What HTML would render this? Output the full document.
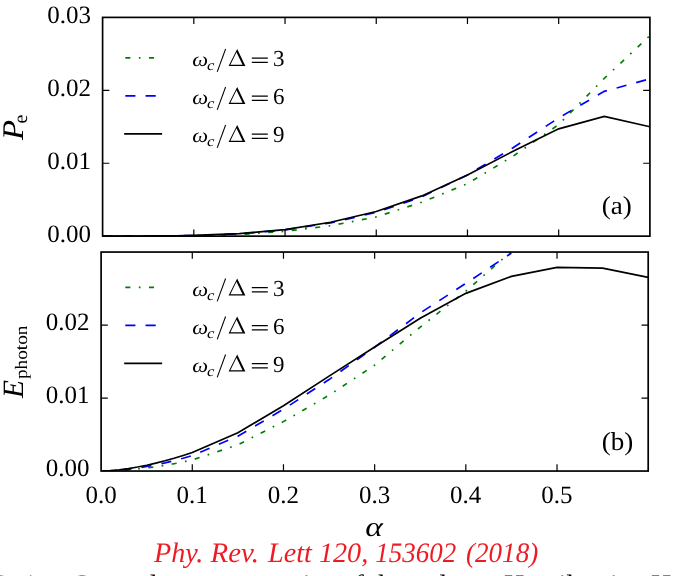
<!DOCTYPE html>
<html><head><meta charset="utf-8"><title>figure</title>
<style>
html,body{margin:0;padding:0;background:#fff;}
body{width:685px;height:576px;overflow:hidden;position:relative;}
svg{position:absolute;left:0;top:0;display:block;will-change:transform;}
text{font-family:"Liberation Serif",serif;fill:#000;text-rendering:geometricPrecision;}
.i{font-style:italic;}
</style></head><body>
<svg width="685" height="576" viewBox="0 0 685 576">
<rect x="0" y="0" width="685" height="576" fill="#fff"/>
<clipPath id="c0"><rect x="102.60" y="17.40" width="547.30" height="218.75"/></clipPath>
<clipPath id="c1"><rect x="101.10" y="252.05" width="547.10" height="219.00"/></clipPath>
<g clip-path="url(#c0)">
<polyline points="102.60,236.15 111.72,236.15 120.84,236.14 129.96,236.13 139.09,236.11 148.21,236.08 157.33,236.03 166.45,235.98 175.57,235.90 184.69,235.82 193.82,235.71 239.43,234.55 285.03,231.34 330.64,225.72 376.25,216.90 421.86,202.24 467.47,183.65 513.08,156.16 558.68,124.59 604.29,78.36 649.90,35.63" fill="none" stroke="#008000" stroke-width="1.69" stroke-dasharray="5.07 8.45 1.69 8.45" stroke-dashoffset="0.00" stroke-linejoin="miter"/>
<polyline points="102.60,236.15 111.72,236.15 120.84,236.13 129.96,236.10 139.09,236.06 148.21,236.00 157.33,235.93 166.45,235.85 175.57,235.75 184.69,235.63 193.82,235.49 239.43,233.89 285.03,229.95 330.64,222.81 376.25,212.38 421.86,196.78 467.47,174.90 513.08,147.78 558.68,117.88 604.29,91.34 649.90,78.80" fill="none" stroke="#0000ff" stroke-width="1.69" stroke-dasharray="10.14 10.14" stroke-dashoffset="0.00" stroke-linejoin="miter"/>
<polyline points="102.60,236.15 111.72,236.15 120.84,236.13 129.96,236.11 139.09,236.06 148.21,236.00 157.33,235.93 166.45,235.83 175.57,235.72 184.69,235.58 193.82,235.42 239.43,233.67 285.03,229.59 330.64,222.22 376.25,211.50 421.86,195.90 467.47,174.90 513.08,151.28 558.68,128.82 604.29,116.35 649.90,126.78" fill="none" stroke="#000000" stroke-width="1.69" stroke-linejoin="miter"/>
</g>
<g clip-path="url(#c1)">
<polyline points="101.10,471.05 110.22,470.90 119.34,470.49 128.45,469.86 137.57,469.02 146.69,467.98 155.81,466.75 164.93,465.33 174.05,463.72 183.16,461.92 192.28,459.95 237.88,444.84 283.47,421.63 329.06,395.20 374.65,365.13 420.24,327.09 465.83,291.11 511.43,251.32" fill="none" stroke="#008000" stroke-width="1.69" stroke-dasharray="5.07 8.45 1.69 8.45" stroke-dashoffset="0.00" stroke-linejoin="miter"/>
<polyline points="101.10,471.05 110.22,470.79 119.34,470.16 128.45,469.22 137.57,468.00 146.69,466.52 155.81,464.80 164.93,462.83 174.05,460.63 183.16,458.21 192.28,455.57 237.88,436.23 283.47,409.22 329.06,379.58 374.65,347.24 420.24,313.00 465.83,283.37 511.43,253.14" fill="none" stroke="#0000ff" stroke-width="1.69" stroke-dasharray="10.14 10.14" stroke-dashoffset="0.00" stroke-linejoin="miter"/>
<polyline points="101.10,471.05 110.22,470.65 119.34,469.79 128.45,468.56 137.57,467.03 146.69,465.21 155.81,463.13 164.93,460.80 174.05,458.23 183.16,455.44 192.28,452.44 237.88,432.80 283.47,405.79 329.06,376.15 374.65,346.95 420.24,318.19 465.83,293.37 511.43,276.36 557.02,267.38 602.61,268.11 648.20,277.38" fill="none" stroke="#000000" stroke-width="1.69" stroke-linejoin="miter"/>
</g>
<rect x="102.60" y="17.40" width="547.30" height="218.75" fill="none" stroke="#000" stroke-width="1.69"/>
<path d="M193.82 236.15v-6.70 M193.82 17.40v6.70 M285.03 236.15v-6.70 M285.03 17.40v6.70 M376.25 236.15v-6.70 M376.25 17.40v6.70 M467.47 236.15v-6.70 M467.47 17.40v6.70 M558.68 236.15v-6.70 M558.68 17.40v6.70 M102.60 163.23h6.70 M649.90 163.23h-6.70 M102.60 90.32h6.70 M649.90 90.32h-6.70 " stroke="#000" stroke-width="1.20" fill="none"/>
<rect x="101.10" y="252.05" width="547.10" height="219.00" fill="none" stroke="#000" stroke-width="1.69"/>
<path d="M192.28 471.05v-6.70 M192.28 252.05v6.70 M283.47 471.05v-6.70 M283.47 252.05v6.70 M374.65 471.05v-6.70 M374.65 252.05v6.70 M465.83 471.05v-6.70 M465.83 252.05v6.70 M557.02 471.05v-6.70 M557.02 252.05v6.70 M101.10 398.05h6.70 M648.20 398.05h-6.70 M101.10 325.05h6.70 M648.20 325.05h-6.70 " stroke="#000" stroke-width="1.20" fill="none"/>
<g font-size="25.00" text-anchor="end">
<text x="91.0" y="241.80">0.00</text>
<text x="91.0" y="169.00">0.01</text>
<text x="91.0" y="96.20">0.02</text>
<text x="91.0" y="23.40">0.03</text>
<text x="89.6" y="475.90">0.00</text>
<text x="89.6" y="402.95">0.01</text>
<text x="89.6" y="330.00">0.02</text>
</g>
<g font-size="25.00" text-anchor="middle">
<text x="101.00" y="502.8">0.0</text>
<text x="192.18" y="502.8">0.1</text>
<text x="283.37" y="502.8">0.2</text>
<text x="374.55" y="502.8">0.3</text>
<text x="465.73" y="502.8">0.4</text>
<text x="556.92" y="502.8">0.5</text>
</g>
<line x1="125.30" y1="57.85" x2="161.30" y2="57.85" stroke="#008000" stroke-width="1.69" stroke-dasharray="5.07 8.45 1.69 8.45"/>
<text transform="translate(192.9,66.05) scale(1.1,1)" x="-0.6" y="0" font-size="20.4" class="i">ω</text><text transform="translate(207.5,70.45) scale(1.15,1)" x="-0.4" y="0" font-size="14.5" class="i">c</text><line x1="217.2" y1="71.85" x2="225.6" y2="48.95" stroke="#000" stroke-width="1.05"/><path d="M228.6 66.05L237.2 49.05L245.4 66.05Z M230.4 64.75L236.5 52.25L242.5 64.75Z" fill="#000" fill-rule="evenodd"/><path d="M251.8 58.15h16 M251.8 62.35h16" stroke="#000" stroke-width="1.1" fill="none"/><text x="273.0" y="66.25" font-size="23">3</text>
<line x1="125.30" y1="95.85" x2="161.30" y2="95.85" stroke="#0000ff" stroke-width="1.69" stroke-dasharray="10.14 10.14"/>
<text transform="translate(192.9,104.05) scale(1.1,1)" x="-0.6" y="0" font-size="20.4" class="i">ω</text><text transform="translate(207.5,108.45) scale(1.15,1)" x="-0.4" y="0" font-size="14.5" class="i">c</text><line x1="217.2" y1="109.85" x2="225.6" y2="86.95" stroke="#000" stroke-width="1.05"/><path d="M228.6 104.05L237.2 87.05L245.4 104.05Z M230.4 102.75L236.5 90.25L242.5 102.75Z" fill="#000" fill-rule="evenodd"/><path d="M251.8 96.15h16 M251.8 100.35h16" stroke="#000" stroke-width="1.1" fill="none"/><text x="273.0" y="104.25" font-size="23">6</text>
<line x1="125.00" y1="133.85" x2="161.30" y2="133.85" stroke="#000000" stroke-width="1.69" stroke-linecap="square"/>
<text transform="translate(192.9,142.05) scale(1.1,1)" x="-0.6" y="0" font-size="20.4" class="i">ω</text><text transform="translate(207.5,146.45) scale(1.15,1)" x="-0.4" y="0" font-size="14.5" class="i">c</text><line x1="217.2" y1="147.85" x2="225.6" y2="124.95" stroke="#000" stroke-width="1.05"/><path d="M228.6 142.05L237.2 125.05L245.4 142.05Z M230.4 140.75L236.5 128.25L242.5 140.75Z" fill="#000" fill-rule="evenodd"/><path d="M251.8 134.15h16 M251.8 138.35h16" stroke="#000" stroke-width="1.1" fill="none"/><text x="273.0" y="142.25" font-size="23">9</text>
<line x1="125.30" y1="287.35" x2="161.30" y2="287.35" stroke="#008000" stroke-width="1.69" stroke-dasharray="5.07 8.45 1.69 8.45"/>
<text transform="translate(192.9,295.55) scale(1.1,1)" x="-0.6" y="0" font-size="20.4" class="i">ω</text><text transform="translate(207.5,299.95) scale(1.15,1)" x="-0.4" y="0" font-size="14.5" class="i">c</text><line x1="217.2" y1="301.35" x2="225.6" y2="278.45" stroke="#000" stroke-width="1.05"/><path d="M228.6 295.55L237.2 278.55L245.4 295.55Z M230.4 294.25L236.5 281.75L242.5 294.25Z" fill="#000" fill-rule="evenodd"/><path d="M251.8 287.65h16 M251.8 291.85h16" stroke="#000" stroke-width="1.1" fill="none"/><text x="273.0" y="295.75" font-size="23">3</text>
<line x1="125.30" y1="325.35" x2="161.30" y2="325.35" stroke="#0000ff" stroke-width="1.69" stroke-dasharray="10.14 10.14"/>
<text transform="translate(192.9,333.55) scale(1.1,1)" x="-0.6" y="0" font-size="20.4" class="i">ω</text><text transform="translate(207.5,337.95) scale(1.15,1)" x="-0.4" y="0" font-size="14.5" class="i">c</text><line x1="217.2" y1="339.35" x2="225.6" y2="316.45" stroke="#000" stroke-width="1.05"/><path d="M228.6 333.55L237.2 316.55L245.4 333.55Z M230.4 332.25L236.5 319.75L242.5 332.25Z" fill="#000" fill-rule="evenodd"/><path d="M251.8 325.65h16 M251.8 329.85h16" stroke="#000" stroke-width="1.1" fill="none"/><text x="273.0" y="333.75" font-size="23">6</text>
<line x1="125.00" y1="363.35" x2="161.30" y2="363.35" stroke="#000000" stroke-width="1.69" stroke-linecap="square"/>
<text transform="translate(192.9,371.55) scale(1.1,1)" x="-0.6" y="0" font-size="20.4" class="i">ω</text><text transform="translate(207.5,375.95) scale(1.15,1)" x="-0.4" y="0" font-size="14.5" class="i">c</text><line x1="217.2" y1="377.35" x2="225.6" y2="354.45" stroke="#000" stroke-width="1.05"/><path d="M228.6 371.55L237.2 354.55L245.4 371.55Z M230.4 370.25L236.5 357.75L242.5 370.25Z" fill="#000" fill-rule="evenodd"/><path d="M251.8 363.65h16 M251.8 367.85h16" stroke="#000" stroke-width="1.1" fill="none"/><text x="273.0" y="371.75" font-size="23">9</text>
<text transform="translate(602.7,213.9) scale(1.05,1)" x="-1" y="0" font-size="25.8">(a)</text>
<text transform="translate(602.7,450.2) scale(1.05,1)" x="-1" y="0" font-size="25.8">(b)</text>
<g transform="translate(22.5,140) rotate(-90)"><text x="0" y="0" font-size="30" class="i" transform="scale(1.1,1)" >P</text><text x="16.6" y="4.8" font-size="20">e</text></g>
<g transform="translate(22.5,397.5) rotate(-90)"><text x="-0.6" y="0" font-size="29.5" class="i">E</text><text transform="translate(18.5,4.2) scale(1.1,1)" x="0" y="0" font-size="17.5">photon</text></g>
<text transform="translate(365.9,535.8) scale(1.21,1)" x="-0.55" y="0" font-size="27.6" class="i">α</text>
<g font-size="28.17" class="i" style="fill:#ed1c24"><text x="154.10" y="561.9" style="fill:#ed1c24">Phy.</text><text x="210.60" y="561.9" style="fill:#ed1c24" textLength="48.40" lengthAdjust="spacingAndGlyphs">Rev.</text><text x="268.10" y="561.9" style="fill:#ed1c24">Lett</text><text x="318.90" y="561.9" style="fill:#ed1c24">120,</text><text x="375.20" y="561.9" style="fill:#ed1c24" textLength="81.00" lengthAdjust="spacingAndGlyphs">153602</text><text x="466.00" y="561.9" style="fill:#ed1c24" textLength="72.20" lengthAdjust="spacingAndGlyphs">(2018)</text></g>
<text x="-36.6" y="593.8" font-size="28.1">FIG. 1</text>
<text x="71" y="593.8" font-size="28.1" word-spacing="-0.4">Ground state properties of the polaron Hamiltonian H</text>
</svg>
</body></html>
